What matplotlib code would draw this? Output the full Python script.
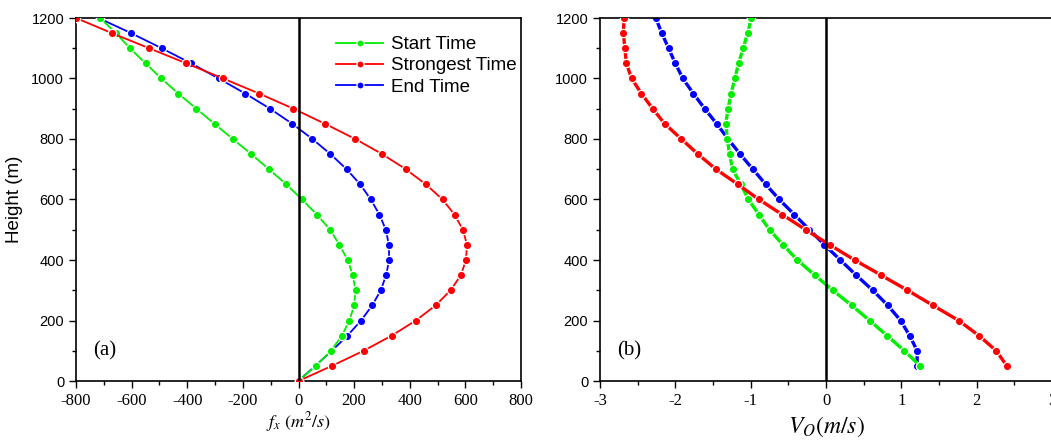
import matplotlib.pyplot as plt
from matplotlib.ticker import MultipleLocator

# heights (m)
height_a = [0, 50, 100, 150, 200, 250, 300, 350, 400, 450, 500, 550, 600,
            650, 700, 750, 800, 850, 900, 950, 1000, 1050, 1100, 1150, 1200]
height_b = height_a[1:]

# (a) f_x (m^2/s)
fx_start = [0, 62, 117, 156, 183, 200, 205, 195, 177, 147, 114, 66, 13,
            -44, -106, -170, -236, -302, -367, -432, -493, -550, -606, -657, -713]
fx_strong = [0, 120, 234, 335, 422, 493, 547, 584, 602, 606, 591, 561, 518,
             458, 386, 301, 204, 96, -18, -141, -271, -403, -537, -671, -800]
fx_end = [0, 60, 120, 176, 225, 265, 296, 315, 326, 325, 314, 291, 260,
          222, 173, 115, 50, -22, -102, -191, -287, -386, -492, -602, -719]

# (b) V_O (m/s)
vo_start = [1.25, 1.04, 0.81, 0.58, 0.34, 0.09, -0.15, -0.38, -0.57, -0.75, -0.89, -1.03,
            -1.13, -1.24, -1.28, -1.31, -1.33, -1.30, -1.26, -1.21, -1.16, -1.10, -1.04, -0.99]
vo_strong = [2.40, 2.26, 2.03, 1.76, 1.42, 1.08, 0.73, 0.38, 0.05, -0.27, -0.58, -0.89,
             -1.17, -1.46, -1.70, -1.92, -2.14, -2.30, -2.45, -2.58, -2.65, -2.67, -2.69, -2.68]
vo_end = [1.21, 1.21, 1.11, 0.99, 0.82, 0.62, 0.40, 0.19, -0.02, -0.22, -0.42, -0.62,
          -0.80, -0.97, -1.14, -1.30, -1.45, -1.61, -1.76, -1.90, -2.00, -2.09, -2.18, -2.26]

labels = ['Start Time', 'Strongest Time', 'End Time']
colors = ['#00ee00', '#ff0000', '#0000ff']
orders = [3, 4, 2]

plt.rcParams['mathtext.fontset'] = 'stix'
plt.rcParams['axes.unicode_minus'] = False
sans = 'Liberation Sans'
serif = 'Liberation Serif'

fig = plt.figure(figsize=(10.51, 4.4), dpi=100)
ax1 = fig.add_axes([76 / 1051, 59 / 440, 445 / 1051, 363 / 440])
ax2 = fig.add_axes([600 / 1051, 59 / 440, 452 / 1051, 363 / 440])


def style(ax, xmaj, xmin):
    ax.xaxis.set_major_locator(MultipleLocator(xmaj))
    ax.xaxis.set_minor_locator(MultipleLocator(xmin))
    ax.yaxis.set_major_locator(MultipleLocator(200))
    ax.yaxis.set_minor_locator(MultipleLocator(100))
    ax.tick_params(which='both', direction='out', top=False, right=False, width=1.0)
    ax.tick_params(which='major', length=5)
    ax.tick_params(which='minor', length=3)
    for s in ax.spines.values():
        s.set_linewidth(1.2)
    for t in ax.get_xticklabels():
        t.set_fontfamily(serif)
        t.set_fontsize(12)
    for t in ax.get_yticklabels():
        t.set_fontfamily(sans)
        t.set_fontsize(10.5)
    ax.set_ylim(0, 1200)


# panel (a)
for vals, lab, c, z in zip([fx_start, fx_strong, fx_end], labels, colors, orders):
    ax1.plot(vals, height_a, color=c, lw=1.3, marker='o', ms=6, mfc=c,
             mec='white', mew=0.9, label=lab, zorder=z)
ax1.axvline(0, color='black', lw=1.8, zorder=5)
ax1.set_xlim(-800, 800)
style(ax1, 200, 100)
ax1.set_xlabel(r'$f_x\ (m^2/s)$', fontsize=13, labelpad=1)
ax1.set_ylabel('Height (m)', fontfamily=sans, fontsize=13.5, labelpad=6)
ax1.text(0.038, 0.07, '(a)', transform=ax1.transAxes, fontfamily=serif, fontsize=15)
ax1.legend(loc='upper right', bbox_to_anchor=(1.027, 0.997), frameon=False,
           prop={'family': sans, 'size': 13.5}, handlelength=2.5,
           handletextpad=0.4, labelspacing=0.22, markerscale=0.85)

# panel (b)
for vals, lab, c, z in zip([vo_start, vo_strong, vo_end], labels, colors, orders):
    ax2.plot(vals, height_b, color=c, lw=2.4, marker='o', ms=6, mfc=c,
             mec='white', mew=0.9, label=lab, zorder=z)
ax2.axvline(0, color='black', lw=1.8, zorder=5)
ax2.set_xlim(-3, 3)
style(ax2, 1, 0.5)
ax2.set_xlabel(r'$V_O(m/s)$', fontsize=17, labelpad=4)
ax2.text(0.038, 0.07, '(b)', transform=ax2.transAxes, fontfamily=serif, fontsize=15)

fig.savefig('out.png', dpi=100)
